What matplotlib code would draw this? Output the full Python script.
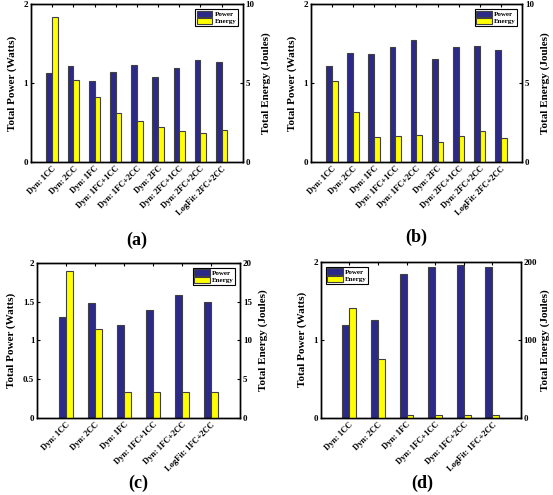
import numpy as np
import matplotlib
matplotlib.use('Agg')
import matplotlib.pyplot as plt

plt.rcParams['font.family'] = ['Liberation Serif', 'DejaVu Serif']
plt.rcParams['font.weight'] = 'bold'

# panel (a)
labels_a = ['Dyn: 1CC', 'Dyn: 2CC', 'Dyn: 1FC', 'Dyn: 1FC+1CC', 'Dyn: 1FC+2CC',
            'Dyn: 2FC', 'Dyn: 2FC+1CC', 'Dyn: 2FC+2CC', 'LogFit: 2FC+2CC']
power_a = [1.13, 1.22, 1.03, 1.14, 1.23, 1.08, 1.19, 1.29, 1.27]
energy_a = [9.2, 5.17, 4.1, 3.07, 2.57, 2.2, 1.96, 1.8, 2.0]

# panel (b)
labels_b = labels_a
power_b = [1.21, 1.38, 1.36, 1.46, 1.54, 1.3, 1.45, 1.47, 1.42]
energy_b = [5.15, 3.18, 1.58, 1.62, 1.7, 1.26, 1.62, 1.95, 1.52]

# panel (c)
labels_c = ['Dyn: 1CC', 'Dyn: 2CC', 'Dyn: 1FC', 'Dyn: 1FC+1CC', 'Dyn: 1FC+2CC',
            'LogFit: 1FC+2CC']
power_c = [1.3, 1.48, 1.2, 1.39, 1.58, 1.5]
energy_c = [19.0, 11.5, 3.3, 3.3, 3.3, 3.3]

# panel (d)
labels_d = labels_c
power_d = [1.19, 1.25, 1.85, 1.94, 1.96, 1.93]
energy_d = [141, 76, 4, 4, 4, 3.5]

POWER_COL = '#2c2a88'
ENERGY_COL = '#ffff00'
EDGE = '#404040'


def panel(rect, labels, power, energy, emax, pticks, eticks, legloc, w, rpad=5):
    ax = fig.add_axes(rect)
    x = np.arange(1, len(labels) + 1)
    ax2 = ax.twinx()
    ax.bar(x - w / 2, power, w, color=POWER_COL, edgecolor=EDGE, linewidth=0.8, label='Power')
    ax2.bar(x + w / 2, energy, w, color=ENERGY_COL, edgecolor=EDGE, linewidth=0.8, label='Energy')
    ax.set_xlim(0, len(labels) + 1)
    ax.set_ylim(0, 2)
    ax2.set_ylim(0, emax)
    ax.set_yticks(pticks)
    ax.set_yticklabels([('%g' % t) for t in pticks], fontsize=6.5, fontweight='bold')
    ax2.set_yticks(eticks)
    ax2.set_yticklabels([('%g' % t) for t in eticks], fontsize=6.5, fontweight='bold')
    ax.set_xticks(x)
    ax.set_xticklabels(labels, rotation=45, ha='right', rotation_mode='anchor',
                       fontsize=6, fontweight='bold')
    ax.tick_params(axis='x', direction='in', top=True, length=2, pad=2)
    ax.tick_params(axis='y', direction='in', length=2, pad=2)
    ax2.tick_params(axis='y', direction='in', length=2, pad=2)
    ax.set_ylabel('Total Power (Watts)', fontsize=8, fontweight='bold', labelpad=5)
    ax2.set_ylabel('Total Energy (Joules)', fontsize=8, fontweight='bold', labelpad=rpad)
    for a in (ax, ax2):
        for s in a.spines.values():
            s.set_linewidth(1.0)
    h1, l1 = ax.get_legend_handles_labels()
    h2, l2 = ax2.get_legend_handles_labels()
    leg = ax2.legend(h1 + h2, l1 + l2, loc=legloc, fontsize=5, fancybox=False,
                     framealpha=1, edgecolor='black', borderpad=0.25,
                     handlelength=2.2, handleheight=1.0, labelspacing=0.1,
                     handletextpad=0.3, borderaxespad=0.7)
    leg.get_frame().set_linewidth(0.8)
    return ax


fig = plt.figure(figsize=(5.53, 4.95), dpi=100)

panel([0.056, 0.673, 0.383, 0.319], labels_a, power_a, energy_a, 10,
      [0, 1, 2], [0, 5, 10], 'upper right', 0.27)
panel([0.562, 0.673, 0.382, 0.319], labels_b, power_b, energy_b, 10,
      [0, 1, 2], [0, 5, 10], 'upper right', 0.27)
panel([0.067, 0.156, 0.367, 0.313], labels_c, power_c, energy_c, 20,
      [0, 0.5, 1, 1.5, 2], [0, 5, 10, 15, 20], 'upper right', 0.24)
panel([0.580, 0.156, 0.362, 0.315], labels_d, power_d, energy_d, 200,
      [0, 1, 2], [0, 100, 200], 'upper left', 0.24, rpad=2)

fig.text(0.248, 0.515, '(a)', ha='center', va='center', fontsize=13, fontweight='bold')
fig.text(0.753, 0.52, '(b)', ha='center', va='center', fontsize=13, fontweight='bold')
fig.text(0.25, 0.024, '(c)', ha='center', va='center', fontsize=13, fontweight='bold')
fig.text(0.763, 0.024, '(d)', ha='center', va='center', fontsize=13, fontweight='bold')

plt.savefig('out.png', dpi=100)
